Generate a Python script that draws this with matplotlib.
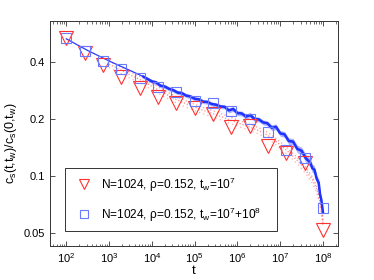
import numpy as np
import matplotlib
matplotlib.use("Agg")
import matplotlib.pyplot as plt
from matplotlib.ticker import LogLocator, NullLocator, FixedLocator, FixedFormatter

plt.rcParams['font.family'] = ['Liberation Sans', 'DejaVu Sans']
plt.rcParams['mathtext.fontset'] = 'custom'
plt.rcParams['mathtext.rm'] = 'Liberation Sans'
plt.rcParams['mathtext.it'] = 'Liberation Sans:italic'
plt.rcParams['mathtext.bf'] = 'Liberation Sans:bold'

# ---- data ----
marker_t = [1.0e2, 2.7e2, 7.2e2, 1.93e3, 5.2e3, 1.39e4, 3.73e4, 1.0e5,
            2.7e5, 7.2e5, 1.93e6, 5.2e6, 1.39e7, 3.73e7, 1.0e8]
tri_vals = [0.534, 0.448, 0.385, 0.332, 0.290, 0.261, 0.242, 0.230,
            0.212, 0.182, 0.184, 0.144, 0.133, 0.117, 0.052]
sq_vals = [0.534, 0.459, 0.405, 0.367, 0.328, 0.296, 0.277, 0.249,
           0.242, 0.221, 0.201, 0.171, 0.137, 0.124, 0.068]

blue_logt = [2.0, 2.5, 3.0, 3.5, 3.8, 4.0, 4.1, 4.2, 4.3, 4.4, 4.5, 4.6, 4.7,
             4.8, 4.9, 5.0, 5.1, 5.2, 5.3, 5.4, 5.5, 5.6, 5.7, 5.8, 5.9, 6.0,
             6.1, 6.2, 6.3, 6.4, 6.5, 6.6, 6.7, 6.8, 6.9, 7.0, 7.1, 7.2, 7.3,
             7.4, 7.5, 7.6, 7.7, 7.75, 7.8, 7.85, 7.9, 7.93, 7.96, 8.0]
blue_vals = [0.530, 0.460, 0.405, 0.360, 0.335, 0.316, 0.312, 0.300, 0.297,
             0.289, 0.284, 0.276, 0.274, 0.266, 0.263, 0.256, 0.254, 0.247,
             0.246, 0.240, 0.238, 0.233, 0.232, 0.222, 0.226, 0.215, 0.214,
             0.206, 0.210, 0.200, 0.199, 0.192, 0.190, 0.180, 0.182, 0.168,
             0.166, 0.153, 0.152, 0.139, 0.136, 0.124, 0.118, 0.110, 0.108,
             0.097, 0.092, 0.080, 0.075, 0.064]
blue_spread = [0.0, 0.0, 0.0, 0.0, 0.02, 0.025, 0.025, 0.025, 0.025, 0.025,
               0.025, 0.025, 0.025, 0.025, 0.025, 0.025, 0.025, 0.025, 0.025,
               0.025, 0.025, 0.025, 0.025, 0.03, 0.03, 0.03, 0.03, 0.03, 0.03,
               0.03, 0.03, 0.03, 0.03, 0.035, 0.035, 0.035, 0.035, 0.04, 0.04,
               0.045, 0.045, 0.05, 0.05, 0.05, 0.05, 0.05, 0.05, 0.05, 0.05,
               0.04]

red_logt = [3.0, 3.5, 3.8, 4.0, 4.2, 4.4, 4.6, 4.8, 5.0, 5.2, 5.4, 5.6, 5.8,
            6.0, 6.2, 6.4, 6.6, 6.8, 7.0, 7.2, 7.4, 7.6, 7.75, 7.85, 7.93, 8.0]
red_vals = [0.400, 0.350, 0.325, 0.305, 0.288, 0.272, 0.258, 0.247, 0.237,
            0.228, 0.220, 0.212, 0.204, 0.196, 0.189, 0.182, 0.174, 0.163,
            0.150, 0.137, 0.124, 0.110, 0.098, 0.088, 0.075, 0.058]

label_tri = r'N=1024, ρ=0.152, t$_\mathregular{w}$=10$^\mathregular{7}$'
label_sq = r'N=1024, ρ=0.152, t$_\mathregular{w}$=10$^\mathregular{7}$+10$^\mathregular{8}$'

# ---- figure ----
fig = plt.figure(figsize=(3.74, 2.8), dpi=100)
ax = fig.add_axes([0.134, 0.121, 0.770, 0.804])

bt = 10.0 ** np.array(blue_logt)
bv = np.array(blue_vals)
bs = np.array(blue_spread)
rt = 10.0 ** np.array(red_logt)
rv = np.array(red_vals)

# red scattered dots (raw data)
ax.plot(rt, rv * 0.975, ls=(0, (1, 1.5)), color='#ff4040', lw=0.9, alpha=0.6)
ax.plot(rt, rv * 0.935, ls=(0, (1, 2.5)), color='#ff6060', lw=0.9, alpha=0.5)
ax.plot(rt, rv * 1.01, ls=(0, (1, 2)), color='#ff4040', lw=0.9, alpha=0.55)

# blue noisy line
mask = bt >= 10 ** 3.7
ax.plot(bt, bv, color='#2a3cff', lw=0.9)
ax.fill_between(bt[mask], bv[mask] * (1 - bs[mask]), bv[mask] * (1 + bs[mask]),
                color='#6a78ff', alpha=0.55, lw=0)
ax.plot(bt[mask], bv[mask], color='#1f32ff', lw=1.8)

# markers
ax.plot(marker_t, tri_vals, ls='none', marker='v', ms=9.5, mfc='none',
        mec='#ff3030', mew=0.8, label=label_tri)
ax.plot(marker_t, sq_vals, ls='none', marker='s', ms=7, mfc='none',
        mec='#6a7aff', mew=0.8, label=label_sq)

ax.set_xscale('log')
ax.set_yscale('log')
ax.set_xlim(42, 2.25e8)
ax.set_ylim(0.0427, 0.658)

ax.xaxis.set_major_locator(LogLocator(base=10, numticks=20))
ax.xaxis.set_minor_locator(LogLocator(base=10, subs=np.arange(2, 10), numticks=20))
ax.yaxis.set_major_locator(FixedLocator([0.05, 0.1, 0.2, 0.4]))
ax.yaxis.set_major_formatter(FixedFormatter(['0.05', '0.1', '0.2', '0.4']))
ax.yaxis.set_minor_locator(NullLocator())

ax.tick_params(which='both', direction='in', top=True, right=True,
               labelsize=8, colors='#333333', labelcolor='black')
ax.tick_params(which='major', length=3.5, width=0.6)
ax.tick_params(which='minor', length=1.8, width=0.5)
for s in ax.spines.values():
    s.set_color('#333333')
    s.set_linewidth(0.7)

ax.set_xlabel('t', fontsize=9.5, labelpad=0)
ax.set_ylabel(r'c$_\mathregular{s}$(t,t$_\mathregular{w}$)/c$_\mathregular{s}$(0,t$_\mathregular{w}$)',
              fontsize=9)
ax.yaxis.set_label_coords(-0.108, 0.458)

leg = ax.legend(loc='lower left', bbox_to_anchor=(0.052, 0.068, 0.736, 0.26),
                mode='expand', fontsize=8.6, markerscale=0.8,
                frameon=True, fancybox=False, edgecolor='#333333',
                framealpha=1, borderpad=0.6, labelspacing=1.0,
                handlelength=2.0, handletextpad=0.4, borderaxespad=0)
leg.get_frame().set_linewidth(0.7)

fig.savefig('out.png', dpi=100)
